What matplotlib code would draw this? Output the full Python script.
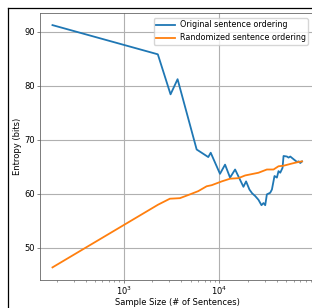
import matplotlib
matplotlib.use('Agg')
import matplotlib.pyplot as plt
from matplotlib.lines import Line2D

# sample sizes and entropies
orig_sizes = [180, 2275, 3090, 3660, 5794, 7664, 8128, 10160, 11480, 12950, 14620,
              17870, 19050, 20640, 22030, 23700, 25660, 27600, 28970, 30200, 31420,
              34040, 35480, 37760, 40000, 41590, 43340, 45810, 46950, 50940, 52970,
              55210, 59800, 64900, 67450, 70300, 73250]
orig_entropy = [91.2, 85.8, 78.4, 81.2, 68.2, 66.8, 67.6, 63.7, 65.4, 63.0, 64.5,
                61.3, 62.3, 60.8, 60.1, 59.6, 58.9, 57.9, 58.3, 57.9, 59.9,
                60.2, 60.8, 63.3, 63.0, 64.2, 63.9, 64.8, 67.0, 66.9, 66.7,
                66.9, 66.4, 65.9, 66.0, 65.7, 66.0]

rand_sizes = [180, 2290, 3040, 3870, 4930, 6020, 7370, 8320, 10590, 12950, 15830,
              18620, 25660, 31420, 36870, 41590, 46950, 57300, 67450, 73250]
rand_entropy = [46.4, 58.0, 59.1, 59.2, 59.9, 60.5, 61.4, 61.6, 62.3, 62.8, 62.9,
                63.4, 63.9, 64.5, 64.5, 65.1, 65.2, 65.6, 65.9, 66.0]

fs = 6
fig = plt.figure(figsize=(3.12, 3.08), dpi=100)
ax = fig.add_axes([40 / 312, 1 - 279.5 / 308, 274.5 / 312, 266.5 / 308])

ax.plot(orig_sizes, orig_entropy, color='#1f77b4', lw=1.3, label='Original sentence ordering')
ax.plot(rand_sizes, rand_entropy, color='#ff7f0e', lw=1.3, label='Randomized sentence ordering')
ax.set_xscale('log')
ax.grid(True, color='#b0b0b0', lw=0.8)
ax.set_yticks([50, 60, 70, 80, 90])
ax.set_xlabel('Sample Size (# of Sentences)', fontsize=fs, labelpad=0.8)
ax.set_ylabel('Entropy (bits)', fontsize=fs, labelpad=1.5)
ax.tick_params(which='major', labelsize=fs, length=2.2, width=0.5, pad=1.6, color='#555555')
ax.tick_params(which='minor', length=1.3, width=0.4, color='#555555')
for s in ax.spines.values():
    s.set_linewidth(0.6)
    s.set_color('#666666')
ax.legend(loc='upper right', fontsize=5.8, handlelength=2.3, handletextpad=0.6,
          borderpad=0.3, borderaxespad=0,
          bbox_to_anchor=(308 / 312, 1 - 18 / 308), bbox_transform=fig.transFigure)

# frame lines from the surrounding figure
fig.add_artist(Line2D([8 / 312, 1], [1 - 8 / 308, 1 - 8 / 308], color='black', lw=0.9))
fig.add_artist(Line2D([8 / 312, 8 / 312], [0, 1 - 8 / 308], color='black', lw=0.9))

fig.savefig('out.png', dpi=100)
